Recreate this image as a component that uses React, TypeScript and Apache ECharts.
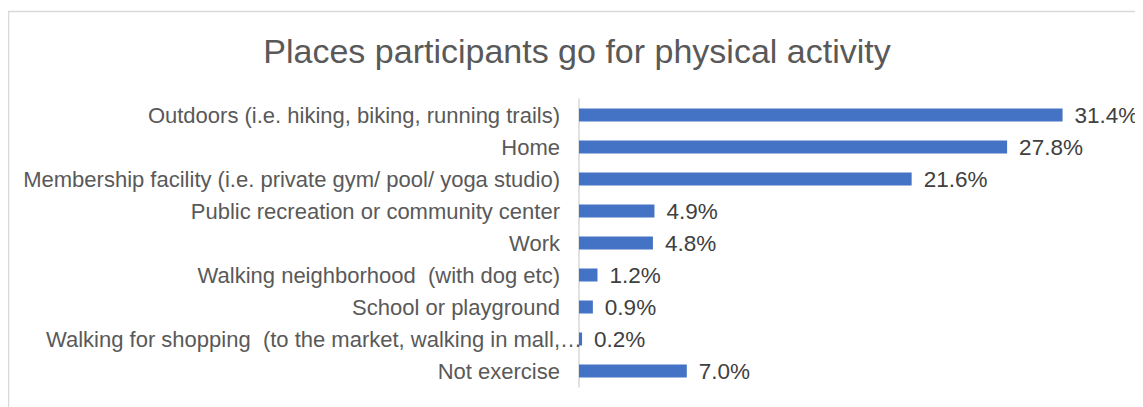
import React, { useEffect, useRef } from "react";
import * as echarts from "echarts";

const titleText = "Places participants go for physical activity";
const categories = [
  "Outdoors (i.e. hiking, biking, running trails)",
  "Home",
  "Membership facility (i.e. private gym/ pool/ yoga studio)",
  "Public recreation or community center",
  "Work",
  "Walking neighborhood  (with dog etc)",
  "School or playground",
  "Walking for shopping  (to the market, walking in mall,…",
  "Not exercise",
];
const values = [31.4, 27.8, 21.6, 4.9, 4.8, 1.2, 0.9, 0.2, 7.0];

export default function App() {
  const ref = useRef<HTMLDivElement>(null);
  useEffect(() => {
    if (!ref.current) return;
    const chart = echarts.init(ref.current, undefined, { renderer: "svg" });
    chart.setOption({
      animation: false,
      textStyle: { fontFamily: "Liberation Sans, Arial, sans-serif" },
      title: {
        text: titleText,
        left: 564,
        textAlign: "center",
        top: 21,
        textStyle: { fontSize: 34, fontWeight: "normal", color: "#595959", fontFamily: "Liberation Sans, Arial, sans-serif" },
      },
      graphic: [
        {
          type: "rect",
          shape: { x: 0.5, y: 3.5, width: 2000, height: 1000 },
          style: { fill: "none", stroke: "#d9d9d9", lineWidth: 1.5 },
          silent: true,
        },
      ],
      grid: { left: 571, top: 91, height: 288, width: 539 },
      xAxis: {
        type: "value",
        min: 0,
        max: 35,
        show: false,
        splitLine: { show: false },
      },
      yAxis: {
        type: "category",
        inverse: true,
        data: categories,
        axisTick: { show: false },
        axisLine: { show: true, lineStyle: { color: "#d9d9d9", width: 1.5 } },
        axisLabel: {
          margin: 19,
          fontSize: 22,
          color: "#595959",
          formatter: (v: string) => (v.endsWith("…") ? "{s|" + v + "}" : v),
          rich: {
            s: { fontSize: 22, color: "#595959", padding: [0, -22, 0, 0] },
          },
        },
      },
      series: [
        {
          type: "bar",
          data: values,
          barWidth: 13,
          itemStyle: { color: "#4472c4" },
          label: {
            show: true,
            position: "right",
            distance: 12,
            fontSize: 22.5,
            color: "#404040",
            formatter: (p: any) => p.value.toFixed(1) + "%",
          },
        },
      ],
    });
    return () => chart.dispose();
  }, []);
  return (
    <div style={{ width: 1135, height: 399, overflow: "hidden" }}>
      <div ref={ref} style={{ width: 1135, height: 399 }} />
    </div>
  );
}
